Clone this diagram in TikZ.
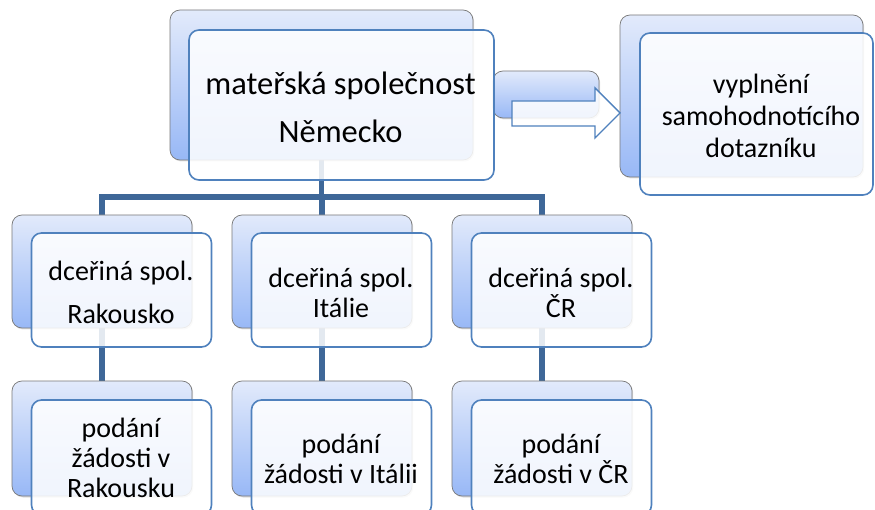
\documentclass[tikz,border=0pt]{standalone}
\usepackage{fontspec}
\setmainfont{Carlito}
\usetikzlibrary{shadows}
\definecolor{conncol}{RGB}{62,103,152}
\definecolor{frontcol}{RGB}{79,129,189}
\definecolor{backtop}{RGB}{226,234,251}
\definecolor{backbot}{RGB}{152,184,246}
\definecolor{backedge}{RGB}{120,120,120}
\tikzset{
  backbox/.style={rectangle, rounded corners=10pt, draw=backedge, line width=0.7pt,
    top color=backtop, bottom color=backbot, inner sep=0pt,
    drop shadow={opacity=0.25, shadow xshift=1.2pt, shadow yshift=-1.5pt}},
  frontbox/.style={rectangle, rounded corners=10pt, draw=frontcol, line width=1.6pt,
    fill=white, fill opacity=0.86, text opacity=1, inner sep=0pt},
  conn/.style={draw=conncol, line width=5.5pt, line join=miter},
  lbl/.style={align=center, text=black, inner sep=0pt}
}
\begin{document}
\begin{tikzpicture}[x=1pt, y=-1pt]
\useasboundingbox (0,0) rectangle (875,510);
\coordinate (bus) at (0,197);
% connector nodes positions
\node[minimum width=303pt, minimum height=150pt] (pPos) at (321.5,85) {};
\node[minimum width=180pt, minimum height=113pt] (c1Pos) at (102,271.5) {};
\node[minimum width=180pt, minimum height=113pt] (c2Pos) at (322,271.5) {};
\node[minimum width=180pt, minimum height=113pt] (c3Pos) at (542,271.5) {};
\node[minimum width=180pt, minimum height=115pt] (d1Pos) at (102,438.5) {};
\node[minimum width=180pt, minimum height=115pt] (d2Pos) at (322,438.5) {};
\node[minimum width=180pt, minimum height=115pt] (d3Pos) at (542,438.5) {};
% connectors
\draw[conn] (pPos.center) -- (pPos.center |- bus);
\draw[conn] (c1Pos.center) -- (c1Pos.center |- bus) -- (c3Pos.center |- bus) -- (c3Pos.center);
\draw[conn] (c2Pos.center) -- (c2Pos.center |- bus);
\draw[conn] (c1Pos.center) -- (d1Pos.center);
\draw[conn] (c2Pos.center) -- (d2Pos.center);
\draw[conn] (c3Pos.center) -- (d3Pos.center);
% back boxes
\node[backbox, minimum width=303pt, minimum height=150pt] (pB) at (321.5,85) {};
\node[backbox, minimum width=106pt, minimum height=47pt] (aB) at (546,94.5) {};
\node[backbox, minimum width=243pt, minimum height=162pt] (rB) at (741.5,96) {};
\node[backbox, minimum width=180pt, minimum height=113pt] (c1B) at (102,271.5) {};
\node[backbox, minimum width=180pt, minimum height=113pt] (c2B) at (322,271.5) {};
\node[backbox, minimum width=180pt, minimum height=113pt] (c3B) at (542,271.5) {};
\node[backbox, minimum width=180pt, minimum height=115pt] (d1B) at (102,438.5) {};
\node[backbox, minimum width=180pt, minimum height=115pt] (d2B) at (322,438.5) {};
\node[backbox, minimum width=180pt, minimum height=115pt] (d3B) at (542,438.5) {};
% arrow
\draw[draw=frontcol, line width=1.4pt, fill=white, fill opacity=0.86, line join=miter]
  (512,101) -- (595,101) -- (595,88) -- (620,113) -- (595,138) -- (595,126) -- (512,126) -- cycle;
% front boxes
\node[frontbox, minimum width=305pt, minimum height=150pt] (pF) at (341.5,105) {};
\node[frontbox, minimum width=233pt, minimum height=162pt] (rF) at (756.5,114) {};
\node[frontbox, minimum width=180pt, minimum height=114pt] (c1F) at (121.5,290) {};
\node[frontbox, minimum width=180pt, minimum height=114pt] (c2F) at (341.5,290) {};
\node[frontbox, minimum width=180pt, minimum height=114pt] (c3F) at (561.5,290) {};
\node[frontbox, minimum width=180pt, minimum height=115pt] (d1F) at (121.5,457.5) {};
\node[frontbox, minimum width=180pt, minimum height=115pt] (d2F) at (341.5,457.5) {};
\node[frontbox, minimum width=180pt, minimum height=115pt] (d3F) at (561.5,457.5) {};
% labels
\node[lbl, font=\fontsize{32.5}{48}\selectfont] (pT) at (340.5,107) {mateřská společnost\\Německo};
\node[lbl, font=\fontsize{28}{32}\selectfont] (rT) at (761,116) {vyplnění\\samohodnotícího\\dotazníku};
\node[lbl, font=\fontsize{28}{43}\selectfont] (c1T) at (121,292) {dceřiná spol.\\Rakousko};
\node[lbl, font=\fontsize{28}{30}\selectfont] (c2T) at (341,293) {dceřiná spol.\\Itálie};
\node[lbl, font=\fontsize{28}{30}\selectfont] (c3T) at (561,293) {dceřiná spol.\\ČR};
\node[lbl, font=\fontsize{28}{30}\selectfont] (d1T) at (121,458) {podání\\žádosti v\\Rakousku};
\node[lbl, font=\fontsize{28}{30}\selectfont] (d2T) at (341,459) {podání\\žádosti v Itálii};
\node[lbl, font=\fontsize{28}{30}\selectfont] (d3T) at (561,459) {podání\\žádosti v ČR};
\end{tikzpicture}
\end{document}
